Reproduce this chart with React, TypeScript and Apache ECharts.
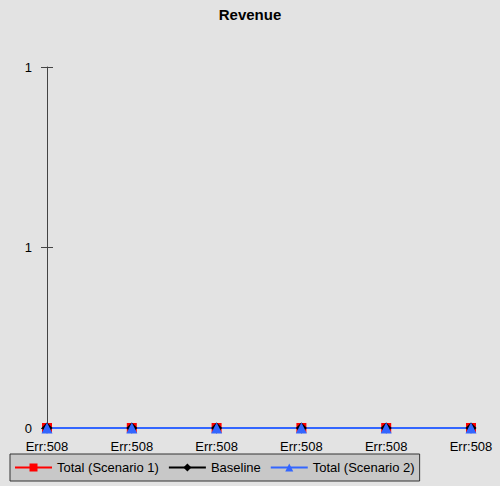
import React, { useEffect, useRef } from "react";
import * as echarts from "echarts";

const categories = ["Err:508", "Err:508", "Err:508", "Err:508", "Err:508", "Err:508"];
const scenario1 = [0, 0, 0, 0, 0, 0];
const baseline = [0, 0, 0, 0, 0, 0];
const scenario2 = [0, 0, 0, 0, 0, 0];
const seriesNames = ["Total (Scenario 1)", "Baseline", "Total (Scenario 2)"];

export default function App() {
  const ref = useRef<HTMLDivElement>(null);
  useEffect(() => {
    document.body.style.margin = "0";
    const chart = echarts.init(ref.current!, null, { renderer: "svg" });
    const font = "'Liberation Sans', Arial, sans-serif";
    chart.setOption({
      animation: false,
      backgroundColor: "#e3e3e3",
      textStyle: { fontFamily: font },
      title: {
        text: "Revenue",
        left: "center",
        top: 2,
        textStyle: { fontSize: 15, fontWeight: "bold", color: "#000", fontFamily: font },
      },
      grid: { left: 47, right: 29, top: 67, bottom: 58, containLabel: false },
      legend: {
        bottom: 5,
        left: 10,
        backgroundColor: "#c8c8c8",
        borderColor: "#333",
        borderWidth: 1,
        borderRadius: 0,
        padding: [7, 5, 7, 4],
        itemWidth: 37,
        itemHeight: 10,
        itemGap: 9,
        textStyle: { fontSize: 13, color: "#000", fontFamily: font },
        data: seriesNames,
      },
      xAxis: {
        type: "category",
        data: categories,
        boundaryGap: false,
        axisLine: { lineStyle: { color: "#000" } },
        axisTick: { show: false },
        axisLabel: { color: "#000", fontSize: 13, margin: 12, interval: 0, fontFamily: font },
        splitLine: { show: false },
      },
      yAxis: [
        {
          type: "value",
          min: 0,
          max: 1,
          interval: 0.5,
          axisLine: { show: true, lineStyle: { color: "#444" } },
          axisTick: { show: true, length: 6, lineStyle: { color: "#444" } },
          axisLabel: {
            color: "#000",
            fontSize: 13,
            margin: 15,
            fontFamily: font,
            formatter: (v: number) => String(Math.round(v)),
          },
          splitLine: { show: false },
        },
        {
          type: "value",
          min: 0,
          max: 1,
          interval: 0.5,
          position: "left",
          offset: 0,
          axisLine: { show: false },
          axisTick: { show: true, inside: true, length: 6, lineStyle: { color: "#444" } },
          axisLabel: { show: false },
          splitLine: { show: false },
        },
      ],
      series: [
        {
          name: seriesNames[0],
          type: "line",
          data: scenario1,
          color: "#ff0000",
          symbol: "rect",
          symbolSize: 10,
          lineStyle: { width: 2, color: "#ff0000" },
          itemStyle: { color: "#ff0000" },
        },
        {
          name: seriesNames[1],
          type: "line",
          data: baseline,
          color: "#000000",
          symbol: "diamond",
          symbolSize: 11,
          lineStyle: { width: 2, color: "#000000" },
          itemStyle: { color: "#000000" },
        },
        {
          name: seriesNames[2],
          type: "line",
          data: scenario2,
          color: "#3366ff",
          symbol: "triangle",
          symbolSize: 11,
          lineStyle: { width: 2, color: "#3366ff" },
          itemStyle: { color: "#3366ff" },
        },
      ],
    });
    return () => chart.dispose();
  }, []);
  return <div ref={ref} style={{ width: 500, height: 486 }} />;
}
